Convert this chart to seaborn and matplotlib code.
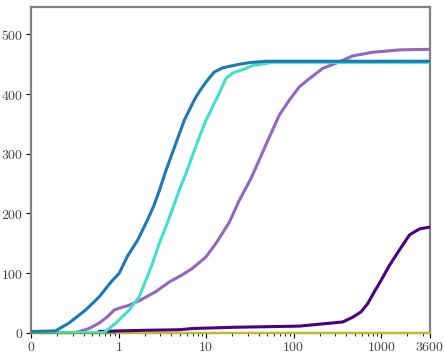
import numpy as np
import pandas as pd
import matplotlib
matplotlib.use("Agg")
import matplotlib.pyplot as plt
import seaborn as sns
from matplotlib.ticker import FixedLocator, NullFormatter, LogLocator

sns.set_theme(style="white")
plt.rcParams["mathtext.fontset"] = "cm"

# ---- data (x in seconds, y = count) ----
blue_x = [0.1, 0.19, 0.27, 0.42, 0.60, 0.82, 1.02, 1.26, 1.65, 2.14, 2.55, 2.92, 3.48,
          4.33, 5.63, 7.33, 8.36, 9.97, 12.4, 15.5, 24, 32.7, 48.5, 3600]
blue_y = [2, 3, 16, 38, 60, 85, 100, 128, 155, 189, 214, 238, 272,
          310, 356, 390, 404, 420, 437, 444, 450, 453, 455, 455]

turq_x = [0.1, 0.68, 0.93, 1.32, 1.72, 2.05, 2.44, 2.92, 3.48, 4.1, 4.94, 5.89,
          8.36, 9.97, 11.9, 14.1, 16.8, 20.1, 28.6, 34.1, 57.7, 3600]
turq_y = [0, 0, 16, 38, 60, 88, 116, 150, 178, 206, 239, 267,
          328, 356, 379, 401, 426, 435, 443, 448, 453, 453]

purp_x = [0.1, 0.32, 0.46, 0.6, 0.75, 0.89, 1.02, 1.32, 1.8, 2.67, 3.8, 5.35, 7.0,
          9.97, 13.0, 14.1, 18.4, 24, 32.7, 40.6, 52.9, 68.8, 89.6, 116, 152,
          215, 334, 474, 803, 1625, 3600]
purp_y = [0, 0, 7, 16, 27, 38, 41, 46, 55, 69, 85, 97, 108,
          127, 150, 158, 185, 222, 259, 290, 328, 365, 390, 412, 426,
          443, 454, 464, 470, 474, 475]

indigo_x = [0.6, 1.0, 2.0, 5.0, 7.0, 20, 116, 365, 474, 592, 704, 840, 1002,
            1247, 1625, 2113, 2750, 3600]
indigo_y = [2, 3, 4, 5, 7, 9, 11, 18, 26, 35, 49, 69, 88,
            113, 139, 164, 174, 177]

olive_x = [0.1, 3600]
olive_y = [0, 0]
green_x = [0.1, 0.9]
green_y = [0, 0]

series = [
    ("olive", olive_x, olive_y, "#bcbd22", 1.6),
    ("green", green_x, green_y, "#5cb82c", 1.6),
    ("indigo", indigo_x, indigo_y, "#4b0082", 2.2),
    ("purple", purp_x, purp_y, "#9467bd", 2.2),
    ("turquoise", turq_x, turq_y, "#40e0d0", 2.2),
    ("blue", blue_x, blue_y, "#1f77b4", 2.2),
]

xticks = [0.1, 1, 10, 100, 1000, 3600]
xtick_labels = ["0", "1", "10", "100", "1000", "3600"]
yticks = [0, 100, 200, 300, 400, 500]

fig = plt.figure(figsize=(4.44, 3.56), dpi=100)
ax = fig.add_axes([0.070, 0.0655, 0.898, 0.915])

for i, (name, xs, ys, col, lw) in enumerate(series):
    df = pd.DataFrame({"x": xs, "y": ys})
    sns.lineplot(data=df, x="x", y="y", ax=ax, color=col, linewidth=lw,
                 estimator=None, sort=False, zorder=3 + i,
                 clip_on=False if name in ("olive", "green") else True)

ax.set_xscale("log")
ax.set_xlim(0.1, 3600)
ax.set_ylim(0, 546)
ax.set_xlabel("")
ax.set_ylabel("")

ax.xaxis.set_major_locator(FixedLocator(xticks))
ax.set_xticklabels(["$%s$" % t for t in xtick_labels])
ax.xaxis.set_minor_locator(LogLocator(base=10, subs=np.arange(2, 10), numticks=20))
ax.xaxis.set_minor_formatter(NullFormatter())
ax.set_yticks(yticks)
ax.set_yticklabels(["$%d$" % t for t in yticks])

ax.tick_params(axis="both", which="major", direction="out", length=3.5, width=0.8,
               color="black", labelsize=10, labelcolor="#444444", pad=2,
               bottom=True, left=True)
ax.tick_params(axis="x", which="minor", direction="out", length=2, width=0.6,
               color="black", bottom=True)

for s in ["left", "top", "right", "bottom"]:
    ax.spines[s].set_color("#808080")
    ax.spines[s].set_linewidth(1.6)
    ax.spines[s].set_visible(True)

fig.savefig("out.png", dpi=100)
